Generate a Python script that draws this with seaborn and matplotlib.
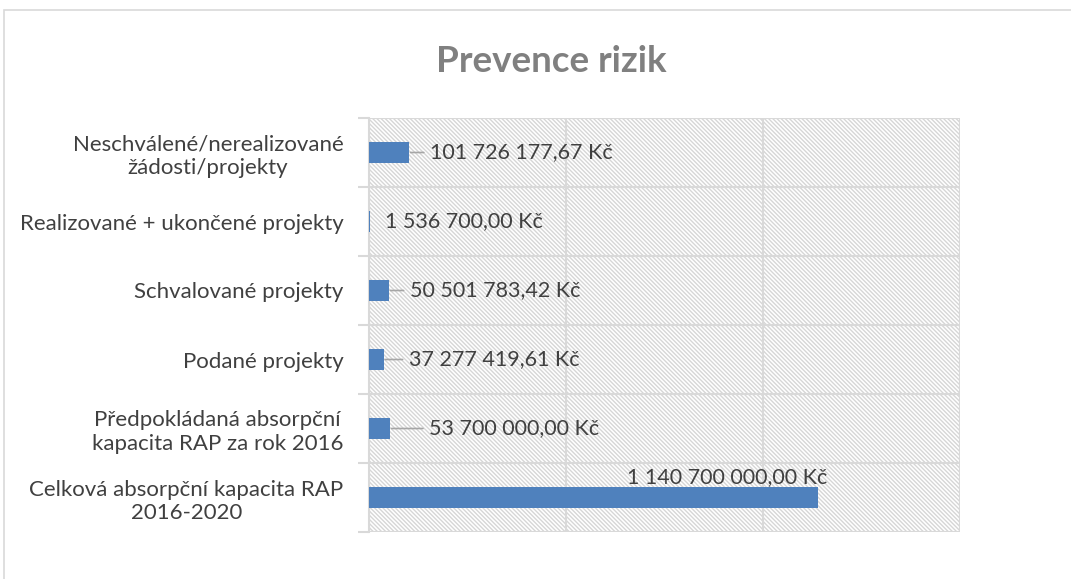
import pandas as pd
import matplotlib.pyplot as plt
import seaborn as sns
from matplotlib.patches import Rectangle

categories = [
    "Neschválené/nerealizované\nžádosti/projekty",
    "Realizované + ukončené projekty",
    "Schvalované projekty",
    "Podané projekty",
    "Předpokládaná absorpční\nkapacita RAP za rok 2016",
    "Celková absorpční kapacita RAP\n2016-2020",
]
values = [101726177.67, 1536700.00, 50501783.42, 37277419.61, 53700000.00, 1140700000.00]
value_labels = [
    "101 726 177,67 Kč",
    "1 536 700,00 Kč",
    "50 501 783,42 Kč",
    "37 277 419,61 Kč",
    "53 700 000,00 Kč",
    "1 140 700 000,00 Kč",
]
x_ticks = [0, 500e6, 1000e6, 1500e6]

# label placement (offset in points from bar end, leader line or not)
label_offsets = [(15, 0), (11, 0), (15, 0), (18, 0), (28, 0), (6, 15)]
leaders = [True, False, True, True, True, False]

BAR_COLOR = "#4F81BD"
GRID_COLOR = "#D9D9D9"
TEXT_COLOR = "#404040"
LABEL_SIZE = 16
VALUE_SIZE = 15.5

sns.set_theme(style="white")
plt.rcParams["font.family"] = ["Lato", "DejaVu Sans"]
plt.rcParams["hatch.linewidth"] = 1.0
plt.rcParams["hatch.color"] = "#D6D6D6"

df = pd.DataFrame({"kategorie": categories, "hodnota": values})

fig = plt.figure(figsize=(10.71, 5.79), dpi=100)
ax = fig.add_axes([369 / 1071, 1 - 532 / 579, 591 / 1071, 414 / 579])

ax.patch.set_facecolor("white")
ax.patch.set_hatch("\\" * 8)
ax.patch.set_edgecolor("#D6D6D6")

sns.barplot(data=df, x="hodnota", y="kategorie", orient="h", color=BAR_COLOR,
            width=0.29, saturation=1, linewidth=0, ax=ax, zorder=3)

ax.set_xlim(0, 1500e6)
ax.set_ylim(len(categories) - 0.5, -0.5)
ax.set_xticks(x_ticks)
ax.set_xticklabels([])
ax.tick_params(axis="x", length=0)
ax.grid(axis="x", color=GRID_COLOR, linewidth=1.5, zorder=1)
ax.set_axisbelow(True)

# category boundary lines + outward ticks
bounds = [i - 0.5 for i in range(len(categories) + 1)]
for b in bounds:
    ax.axhline(b, color=GRID_COLOR, linewidth=1.5, zorder=1)
ax.set_yticks(bounds, minor=True)
ax.tick_params(axis="y", which="minor", length=8, width=1.5, color=GRID_COLOR, left=True)
ax.tick_params(axis="y", which="major", length=0, pad=18.5, labelsize=LABEL_SIZE,
               labelcolor=TEXT_COLOR)
for lbl in ax.get_yticklabels():
    lbl.set_horizontalalignment("right")
    lbl.set_multialignment("center")

for s in ["top", "right", "bottom"]:
    ax.spines[s].set_visible(False)
ax.spines["left"].set_color(GRID_COLOR)
ax.spines["left"].set_linewidth(1.5)

ax.set_xlabel("")
ax.set_ylabel("")

for i, (v, txt) in enumerate(zip(values, value_labels)):
    dx, dy = label_offsets[i]
    if dy == 0:
        ax.annotate(txt, xy=(v, i), xytext=(dx, 0), textcoords="offset points",
                    ha="left", va="center", fontsize=VALUE_SIZE, color=TEXT_COLOR, zorder=5,
                    arrowprops=dict(arrowstyle="-", color="#A6A6A6", lw=1.2,
                                    shrinkA=2, shrinkB=1) if leaders[i] else None)
    else:
        ax.annotate(txt, xy=(v, i), xytext=(dx, dy), textcoords="offset points",
                    ha="right", va="center", fontsize=VALUE_SIZE, color=TEXT_COLOR, zorder=5)

fig.text(0.515, 1 - 61 / 579, "Prevence rizik", ha="center", va="center",
         fontsize=26.5, fontweight="bold", color="#808080")

fig.patches.append(Rectangle((4 / 1071, -0.1), 1.2, 1 - 10 / 579 + 0.1,
                             transform=fig.transFigure, fill=False,
                             edgecolor="#D9D9D9", linewidth=1.2))

fig.savefig("out.png", dpi=100)
